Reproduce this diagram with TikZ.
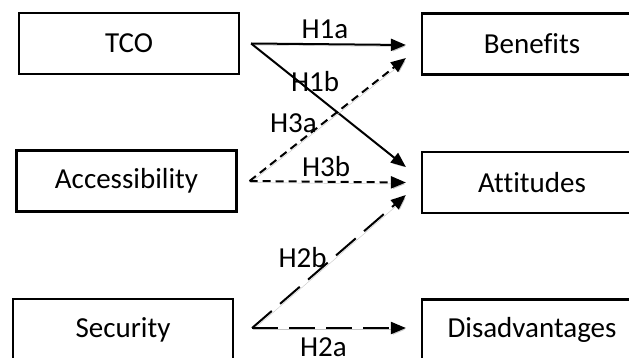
\documentclass[tikz,border=0pt]{standalone}
\usepackage{fontspec}
\setmainfont{Carlito}[Ligatures=NoCommon]
\usepackage{tikz}
\usetikzlibrary{arrows.meta,calc}

\begin{document}
\begin{tikzpicture}[x=1pt,y=-1pt,
    box/.style={rectangle,draw=black,line width=2.2pt,fill=white,minimum width=220pt,minimum height=61pt,inner sep=0pt},
    hyp/.style={inner sep=0pt,anchor=base},
    shadowed/.style={preaction={draw=gray!45,transform canvas={shift={(1.2pt,-1.6pt)}}}},
    link/.style={line width=2pt,-{Triangle[length=15pt,width=12pt]},shadowed},
    shortdash/.style={dash pattern=on 8pt off 5pt},
    longdash/.style={dash pattern=on 26pt off 11pt},
    every node/.style={font=\fontsize{29}{34}\selectfont}
    ]
    \useasboundingbox (0,0) rectangle (629,358);
    \clip (0,0) rectangle (629,358);

    % constructs on the left
    \foreach \name/\txt/\x/\y in {tco/TCO/129/43.5, access/Accessibility/126.5/181, security/Security/123/329.5} {
        \node[box] (\name) at (\x,\y) {\txt};
    }
    % outcomes on the right
    \foreach \name/\txt/\y in {benefits/Benefits/44, attitudes/Attitudes/182.5, disadv/Disadvantages/330} {
        \node[box] (\name) at (532,\y) {\txt};
    }

    % start and end points of the arrows
    \coordinate (tco out) at ([xshift=11pt]tco.east);
    \coordinate (access out) at ([xshift=12pt]access.east);
    \coordinate (security out) at ([xshift=18pt,yshift=1.5pt]security.east);
    \coordinate (benefits in) at ([xshift=-15pt,yshift=-1pt]benefits.west);
    \coordinate (benefits low) at ([xshift=-15pt,yshift=-14pt]benefits.west);
    \coordinate (attitudes high) at ([xshift=-15pt,yshift=15.5pt]attitudes.west);
    \coordinate (attitudes in) at ([xshift=-15pt]attitudes.west);
    \coordinate (attitudes low) at ([xshift=-15pt,yshift=-12.5pt]attitudes.west);
    \coordinate (disadv in) at ([xshift=-15pt,yshift=2pt]disadv.west);

    \draw[link] (tco out) -- (benefits in);
    \draw[link] (tco out) -- (attitudes high);
    \draw[link,shortdash] (access out) -- (benefits low);
    \draw[link,shortdash] (access out) -- (attitudes in);
    \draw[link,longdash] (security out) -- (attitudes low);
    \draw[link,longdash] (security out) -- (disadv in);

    % hypothesis labels
    \node[hyp] (h1a) at (325,39) {H1a};
    \node[hyp] (h1b) at (315,92) {H1b};
    \node[hyp] (h3a) at (293.5,133) {H3a};
    \node[hyp] (h3b) at (326,177) {H3b};
    \node[hyp] (h2b) at (302.5,267) {H2b};
    \node[hyp] (h2a) at (323.5,356) {H2a};
\end{tikzpicture}
\end{document}
